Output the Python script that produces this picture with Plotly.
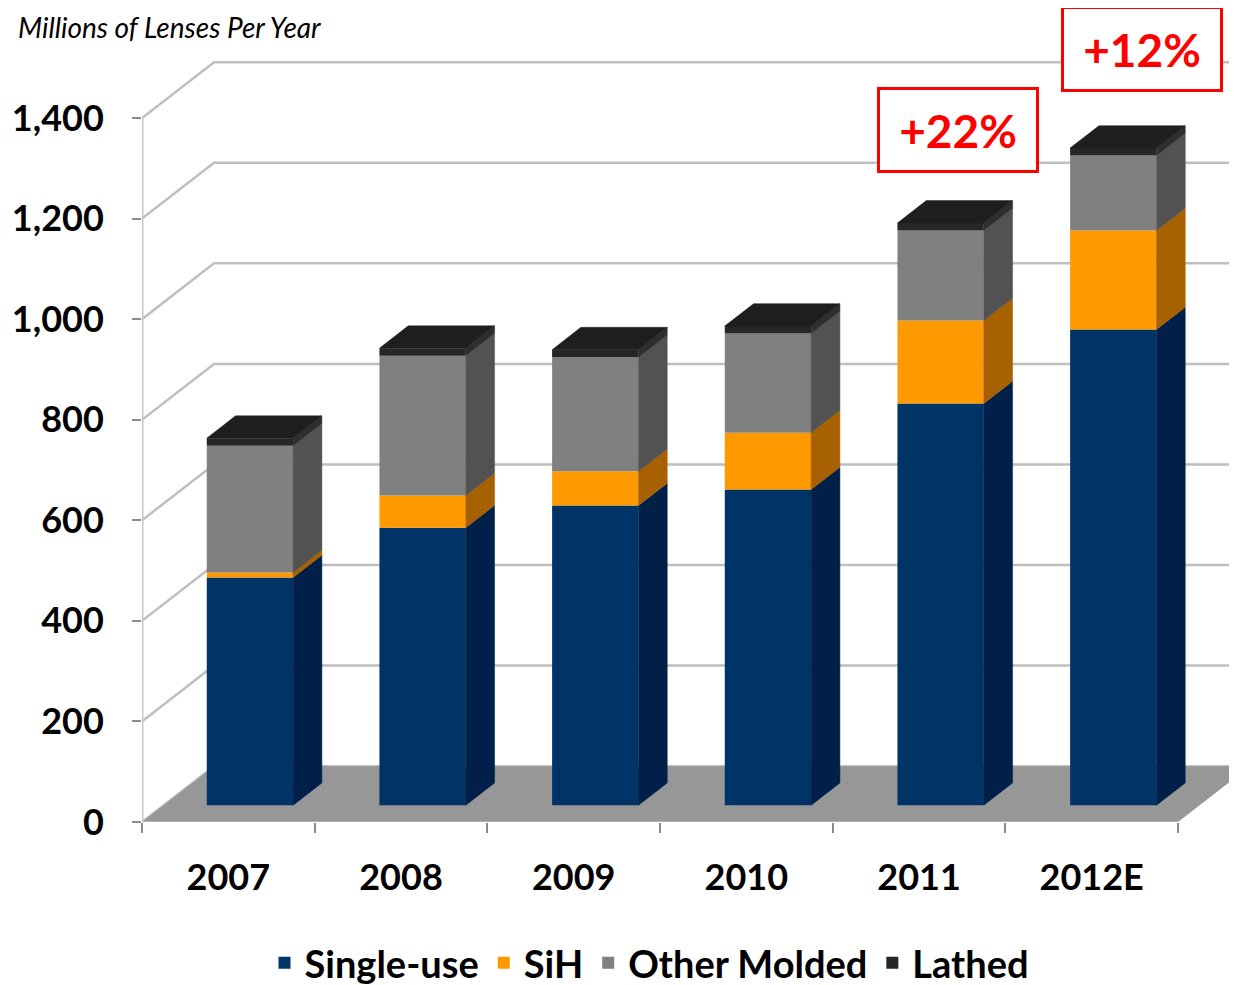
import plotly.graph_objects as go

# ---------------- data ----------------
years = ["2007", "2008", "2009", "2010", "2011", "2012E"]
single_use = [453, 552, 596, 628, 799, 946]
sih = [10, 64, 68, 113, 165, 197]
other_molded = [252, 278, 227, 197, 179, 149]
lathed = [15, 15, 15, 15, 15, 15]
y_ticks = [0, 200, 400, 600, 800, 1000, 1200, 1400]
y_tick_text = ["0", "200", "400", "600", "800", "1,000", "1,200", "1,400"]
growth_labels = ["+22%", "+12%"]

# ---------------- style / geometry ----------------
FRONT = {"Single-use": "#003366", "SiH": "#FF9900", "Other Molded": "#808080", "Lathed": "#262626"}
SIDE = {"Single-use": "#00204A", "SiH": "#A86100", "Other Molded": "#525252", "Lathed": "#2E2E2E"}
TOP_COLOR = "#1E1E1E"
DX = 0.417        # full depth of the floor, x units
DY = 111.0        # full depth of the floor, value units
F0 = 0.30         # front face position (fraction of depth)
BD = 0.40         # bar depth (fraction of depth)
BW = 0.5          # bar width
PX_PER_CAT = 172.67
PX_PER_VAL = 0.50286
PAGE_OFF = 8      # page body margin
W, H = 1237 - PAGE_OFF, 985 - PAGE_OFF
L_MARGIN, B_MARGIN = 142 - PAGE_OFF, 163
PLOT_BOTTOM = H - B_MARGIN
XMAX = (W - L_MARGIN) / PX_PER_CAT
YMAX = PLOT_BOTTOM / PX_PER_VAL
n = len(years)

fig = go.Figure()

series = [("Single-use", single_use), ("SiH", sih), ("Other Molded", other_molded), ("Lathed", lathed)]
centers = [i + 0.5 for i in range(n)]
x_front = [c + F0 * DX for c in centers]
cum = [0.0] * n
side_traces = []
for name, vals in series:
    bases = [cum[i] + F0 * DY for i in range(n)]
    fig.add_trace(go.Bar(
        x=x_front, y=vals, base=bases, width=BW, name=name,
        marker=dict(color=FRONT[name], line=dict(width=0)),
        hovertemplate=name + ": %{y}<extra></extra>",
    ))
    sx, sy = [], []
    for i in range(n):
        xr = x_front[i] + BW / 2
        y0 = bases[i]
        y1 = bases[i] + vals[i]
        sx += [xr, xr, xr + BD * DX, xr + BD * DX, xr, None]
        sy += [y0, y1, y1 + BD * DY, y0 + BD * DY, y0, None]
    side_traces.append(go.Scatter(
        x=sx, y=sy, mode="lines", fill="toself", fillcolor=SIDE[name],
        line=dict(color=SIDE[name], width=0.5), showlegend=False, hoverinfo="skip"))
    cum = [cum[i] + vals[i] for i in range(n)]

for t in side_traces:
    fig.add_trace(t)

# top faces
tx, ty = [], []
for i in range(n):
    xl = x_front[i] - BW / 2
    xr = x_front[i] + BW / 2
    yt = cum[i] + F0 * DY
    tx += [xl, xr, xr + BD * DX, xl + BD * DX, xl, None]
    ty += [yt, yt, yt + BD * DY, yt + BD * DY, yt, None]
fig.add_trace(go.Scatter(x=tx, y=ty, mode="lines", fill="toself", fillcolor=TOP_COLOR,
                         line=dict(color=TOP_COLOR, width=0.5), showlegend=False, hoverinfo="skip"))

# ---------------- walls / floor ----------------
shapes = []
for v in y_ticks:
    shapes.append(dict(type="path", xref="x", yref="y", layer="below",
                       path=f"M 0,{v} L {DX},{v + DY} L {XMAX + 1},{v + DY}",
                       line=dict(color="#BFBFBF", width=2.5)))
shapes.append(dict(type="path", xref="x", yref="y", layer="below",
                   path=f"M 0,0 L {n},0 L {n + DX},{DY} L {DX},{DY} Z",
                   fillcolor="#979797", line=dict(width=0)))
shapes.append(dict(type="line", xref="x", yref="y", layer="below",
                   x0=0, x1=0, y0=0, y1=y_ticks[-1], line=dict(color="#C8C8C8", width=3)))
shapes.append(dict(type="line", xref="x", yref="y", layer="below",
                   x0=0, x1=n, y0=0, y1=0, line=dict(color="#B0B0B0", width=2)))

# growth annotations (positions given in page pixels, converted to data units)
ann = []
box_px = [(958, 130), (1141.5, 48.5)]
for (px, py), txt in zip(box_px, growth_labels):
    bx = (px - PAGE_OFF - L_MARGIN) / PX_PER_CAT
    by = (PLOT_BOTTOM - (py - PAGE_OFF)) / PX_PER_VAL
    ann.append(dict(x=bx, y=by, xref="x", yref="y", text=txt, showarrow=False,
                    font=dict(family="Lato", size=46, color="#FF0000", weight="bold"),
                    bordercolor="#FF0000", borderwidth=3, bgcolor="white",
                    width=156, height=80, borderpad=0, xanchor="center", yanchor="middle"))

fig.update_layout(
    width=W, height=H,
    margin=dict(l=L_MARGIN, r=0, t=0, b=B_MARGIN, autoexpand=False),
    paper_bgcolor="white", plot_bgcolor="white",
    barmode="overlay",
    shapes=shapes, annotations=ann,
    title=dict(text="Millions of Lenses Per Year", x=10 / W, xanchor="left",
               y=1 - 20 / H, yanchor="middle", xref="container", yref="container",
               font=dict(family="Lato", size=28, style="italic", color="black")),
    font=dict(family="Lato", color="black"),
    legend=dict(orientation="h", x=(649.5 - PAGE_OFF - L_MARGIN) / (W - L_MARGIN), xanchor="center",
                y=-((963 - PAGE_OFF) - PLOT_BOTTOM) / PLOT_BOTTOM, yanchor="middle",
                font=dict(family="Lato", size=38, weight="bold", color="black"),
                traceorder="normal", itemwidth=30),
    xaxis=dict(range=[0, XMAX], showgrid=False, zeroline=False, showline=False, automargin=False,
               tickmode="array", tickvals=centers, ticktext=years, ticks="",
               tickfont=dict(family="Lato", size=36, weight="bold", color="black"),
               ticklabelstandoff=31,
               minor=dict(tickmode="array", tickvals=list(range(n + 1)), ticks="outside",
                          ticklen=10, tickwidth=2, tickcolor="#8C8C8C", showgrid=False)),
    yaxis=dict(range=[0, YMAX], showgrid=False, zeroline=False, showline=False, automargin=False,
               tickmode="array", tickvals=y_ticks, ticktext=y_tick_text,
               ticks="outside", ticklen=9, tickwidth=2, tickcolor="#8C8C8C",
               tickfont=dict(family="Lato", size=36, weight="bold", color="black"),
               ticklabelstandoff=21),
)

fig.write_html("out.html")
